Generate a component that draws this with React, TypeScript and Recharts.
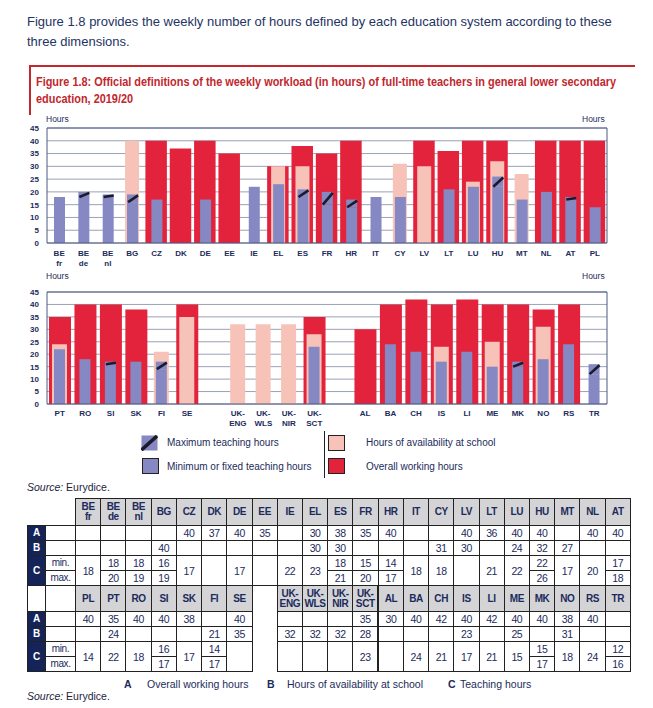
import type { CSSProperties } from "react";
import { Bar, BarChart, CartesianGrid, ReferenceLine, XAxis, YAxis } from "recharts";

// upper chart
const topCountries = ["BE\nfr", "BE\nde", "BE\nnl", "BG", "CZ", "DK", "DE", "EE", "IE", "EL", "ES", "FR", "HR", "IT", "CY", "LV", "LT", "LU", "HU", "MT", "NL", "AT", "PL"];
const topOverall = [null, null, null, null, 40, 37, 40, 35, null, 30, 38, 35, 40, null, null, 40, 36, 40, 40, null, 40, 40, 40];
const topAvailability = [null, null, null, 40, null, null, null, null, null, 30, 30, null, null, null, 31, 30, null, 24, 32, 27, null, null, null];
const topTeachMin = [18, 18, 18, 16, 17, null, 17, null, 22, 23, 18, 15, 14, 18, 18, null, 21, 22, 22, 17, 20, 17, 14];
const topTeachMax = [null, 20, 19, 19, null, null, null, null, null, null, 21, 20, 17, null, null, null, null, null, 26, null, null, 18, null];

// lower chart ("" and " " are the empty slots)
const bottomCountries = ["PT", "RO", "SI", "SK", "FI", "SE", "", "UK-\nENG", "UK-\nWLS", "UK-\nNIR", "UK-\nSCT", " ", "AL", "BA", "CH", "IS", "LI", "ME", "MK", "NO", "RS", "TR"];
const bottomOverall = [35, 40, 40, 38, null, 40, null, null, null, null, 35, null, 30, 40, 42, 40, 42, 40, 40, 38, 40, null];
const bottomAvailability = [24, null, null, null, 21, 35, null, 32, 32, 32, 28, null, null, null, null, 23, null, 25, null, 31, null, null];
const bottomTeachMin = [22, 18, 16, 17, 14, null, null, null, null, null, 23, null, null, 24, 21, 17, 21, 15, 15, 18, 24, 12];
const bottomTeachMax = [null, null, 17, null, 17, null, null, null, null, null, null, null, null, null, null, null, null, null, 17, null, null, 16];

// table columns
const table1Columns = ["BE\nfr", "BE\nde", "BE\nnl", "BG", "CZ", "DK", "DE", "EE", "IE", "EL", "ES", "FR", "HR", "IT", "CY", "LV", "LT", "LU", "HU", "MT", "NL", "AT"];
const table2Columns = ["PL", "PT", "RO", "SI", "SK", "FI", "SE", "", "UK-\nENG", "UK-\nWLS", "UK-\nNIR", "UK-\nSCT", "AL", "BA", "CH", "IS", "LI", "ME", "MK", "NO", "RS", "TR"];

const hourTicks = [0, 5, 10, 15, 20, 25, 30, 35, 40, 45];

const RED = "#e3233b";
const PINK = "#f7c3b8";
const BLUE = "#8588c3";
const NAVY = "#1c2b5b";
const TEXT = "#1e3462";
const DARKNAVY = "#142459";
const FRAME = "#4d5b80";
const GRID = "#9aa2b6";
const TITLE_RED = "#c1272d";
const SANS = "'Liberation Sans', Arial, sans-serif";

type Num = number | null;
type Row = { name: string; A: Num; B: Num; Cmin: Num; Cmax: Num; Chatch: Num };

function buildRows(names: string[], a: Num[], b: Num[], min: Num[], max: Num[]): Row[] {
  return names.map((name, i) => ({
    name,
    A: a[i],
    B: b[i],
    Cmin: min[i],
    Cmax: max[i],
    Chatch: max[i] != null && min[i] != null ? (max[i] as number) - (min[i] as number) : null,
  }));
}

const topRows = buildRows(topCountries, topOverall, topAvailability, topTeachMin, topTeachMax);
const bottomRows = buildRows(bottomCountries, bottomOverall, bottomAvailability, bottomTeachMin, bottomTeachMax);
const lookup = new Map<string, Row>();
[...topRows, ...bottomRows].forEach((r) => lookup.set(r.name, r));

function HatchShape(props: any) {
  const { x, y, width, height } = props;
  if (!height || height <= 0) return null;
  return (
    <g>
      <rect x={x} y={y} width={width} height={height} fill={BLUE} />
      <line x1={x + 1} y1={y + height} x2={x + width} y2={y + 1} stroke="#1b1b2b" strokeWidth={2.6} />
    </g>
  );
}

function CountryTick(props: any) {
  const { x, y, payload, first } = props;
  const lines = String(payload.value).split("\n");
  return (
    <text x={x} y={y} textAnchor="middle" fontSize={8} fontWeight={700} fill={NAVY} fontFamily={SANS}>
      {lines.map((l, i) => (
        <tspan key={i} x={x} dy={i === 0 ? first : 9.5}>
          {l}
        </tspan>
      ))}
    </text>
  );
}

const yTick = { fontSize: 8, fontWeight: 700, fill: NAVY, fontFamily: SANS };

function WorkloadChart({ rows, top, height, first, redSize, pinkSize }: { rows: Row[]; top: number; height: number; first: number; redSize: number; pinkSize: number }) {
  return (
    <div style={{ position: "absolute", left: 0, top, width: 653, height }}>
      <BarChart width={653} height={height} data={rows} margin={{ top: 8, right: 26, bottom: 0, left: 27 }} barGap={0} barCategoryGap={0}>
        <CartesianGrid vertical={false} stroke={GRID} />
        <XAxis
          dataKey="name"
          interval={0}
          tickLine={false}
          tickSize={0}
          axisLine={{ stroke: FRAME }}
          height={30}
          tick={(p: any) => <CountryTick {...p} first={first} />}
        />
        <XAxis dataKey="name" xAxisId="pink" hide />
        <XAxis dataKey="name" xAxisId="blue" hide />
        <YAxis domain={[0, 45]} ticks={hourTicks} interval={0} width={20} tickLine={false} tickSize={0} tickMargin={8} axisLine={{ stroke: FRAME }} tick={yTick} />
        <YAxis yAxisId="right" orientation="right" domain={[0, 45]} ticks={hourTicks} interval={0} width={20} tickLine={false} tickSize={0} tickMargin={10} axisLine={{ stroke: FRAME }} tick={yTick} />
        <ReferenceLine y={45} stroke={FRAME} />
        <Bar dataKey="A" fill={RED} barSize={redSize} isAnimationActive={false} />
        <Bar dataKey="B" xAxisId="pink" fill={PINK} barSize={pinkSize} isAnimationActive={false} />
        <Bar dataKey="Cmin" xAxisId="blue" stackId="c" fill={BLUE} barSize={11} isAnimationActive={false} />
        <Bar dataKey="Chatch" xAxisId="blue" stackId="c" fill={BLUE} barSize={11} shape={HatchShape} isAnimationActive={false} />
      </BarChart>
    </div>
  );
}

const border = "1px solid #222";

function cell(extra?: CSSProperties): CSSProperties {
  return {
    border,
    padding: 0,
    textAlign: "center",
    verticalAlign: "middle",
    fontFamily: SANS,
    fontSize: 10.5,
    letterSpacing: -0.4,
    color: NAVY,
    lineHeight: "10px",
    ...extra,
  };
}

function DataTable({ columns, top, headerHeight, rowHeight, cornerBorder, thickBefore }: { columns: string[]; top: number; headerHeight: number; rowHeight: number; cornerBorder: boolean; thickBefore?: string }) {
  const colW = 555 / columns.length;
  const extraFor = (c: string): CSSProperties => {
    const s: CSSProperties = {};
    if (c === thickBefore) s.borderLeft = "2.5px solid #222";
    if (c === "") {
      s.borderTop = "none";
      s.borderBottom = "none";
    }
    return s;
  };
  const letter = (l: string, span = 1) => (
    <td rowSpan={span} style={cell({ background: DARKNAVY, color: "#fff", fontWeight: 700, fontSize: 10, letterSpacing: 0 })}>{l}</td>
  );
  const val = (v: Num) => (v == null ? "" : String(v));
  return (
    <table style={{ position: "absolute", left: 27, top, width: 603, borderCollapse: "collapse", tableLayout: "fixed" }}>
      <colgroup>
        <col style={{ width: 18 }} />
        <col style={{ width: 30 }} />
        {columns.map((c, i) => (
          <col key={i} style={{ width: colW }} />
        ))}
      </colgroup>
      <tbody>
        <tr style={{ height: headerHeight }}>
          <td style={cell(cornerBorder ? { borderTop: "none" } : { border: "none" })} />
          <td style={cell(cornerBorder ? { borderTop: "none" } : { border: "none" })} />
          {columns.map((c, i) => (
            <td key={i} style={cell({ background: c === "" ? "#fff" : "#d4d4d6", fontWeight: 700, fontSize: 10, ...extraFor(c) })}>
              {c.split("\n").map((l, j) => (
                <div key={j}>{l}</div>
              ))}
            </td>
          ))}
        </tr>
        <tr style={{ height: rowHeight }}>
          {letter("A")}
          <td style={cell()} />
          {columns.map((c, i) => (
            <td key={i} style={cell(extraFor(c))}>{val(lookup.get(c)?.A ?? null)}</td>
          ))}
        </tr>
        <tr style={{ height: rowHeight }}>
          {letter("B")}
          <td style={cell()} />
          {columns.map((c, i) => (
            <td key={i} style={cell(extraFor(c))}>{val(lookup.get(c)?.B ?? null)}</td>
          ))}
        </tr>
        <tr style={{ height: rowHeight }}>
          {letter("C", 2)}
          <td style={cell({ fontSize: 10 })}>min.</td>
          {columns.map((c, i) => {
            const r = lookup.get(c);
            if (r && r.Cmax != null) return <td key={i} style={cell(extraFor(c))}>{val(r.Cmin)}</td>;
            return (
              <td key={i} rowSpan={2} style={cell(extraFor(c))}>
                {val(r?.Cmin ?? null)}
              </td>
            );
          })}
        </tr>
        <tr style={{ height: rowHeight }}>
          <td style={cell({ fontSize: 10 })}>max.</td>
          {columns.map((c, i) => {
            const r = lookup.get(c);
            if (r && r.Cmax != null) return <td key={i} style={cell(extraFor(c))}>{val(r.Cmax)}</td>;
            return null;
          })}
        </tr>
      </tbody>
    </table>
  );
}

function LegendBox({ left, top, color, hatch }: { left: number; top: number; color: string; hatch?: boolean }) {
  return (
    <svg style={{ position: "absolute", left, top }} width={17} height={16}>
      <rect x={0.5} y={0.5} width={16} height={15} fill={color} stroke={hatch ? "none" : "#222"} />
      {hatch && <line x1={0.5} y1={15} x2={16} y2={1} stroke="#1b1b2b" strokeWidth={3.5} />}
    </svg>
  );
}

const abs = (left: number, top: number, extra?: CSSProperties): CSSProperties => ({
  position: "absolute",
  left,
  top,
  whiteSpace: "nowrap",
  fontFamily: SANS,
  color: NAVY,
  ...extra,
});

export default function App() {
  return (
    <div style={{ position: "absolute", left: 0, top: 0, width: 653, height: 708, background: "#fff", overflow: "hidden" }}>
      <div style={abs(27, 12, { fontSize: 13, lineHeight: "20px", color: TEXT })}>
        Figure 1.8 provides the weekly number of hours defined by each education system according to these
        <br />
        three dimensions.
      </div>

      <div style={{ position: "absolute", left: 29, top: 65, width: 604, height: 48, borderTop: `2px solid ${TITLE_RED}`, borderLeft: `2px solid ${TITLE_RED}` }} />
      <div style={abs(36, 73, { fontWeight: 700, fontSize: 13, lineHeight: "17px", color: TITLE_RED, transform: "scaleX(0.84)", transformOrigin: "0 0" })}>
        Figure 1.8: Official definitions of the weekly workload (in hours) of full-time teachers in general lower secondary
        <br />
        education, 2019/20
      </div>

      <div style={abs(46, 114, { fontSize: 8.5 })}>Hours</div>
      <div style={abs(582, 114, { fontSize: 8.5 })}>Hours</div>
      <WorkloadChart rows={topRows} top={120} height={153} first={11} redSize={21.5} pinkSize={14} />

      <div style={abs(46, 271, { fontSize: 8.5 })}>Hours</div>
      <div style={abs(582, 271, { fontSize: 8.5 })}>Hours</div>
      <WorkloadChart rows={bottomRows} top={284} height={150} first={10} redSize={22} pinkSize={15} />

      <LegendBox left={141} top={435} color={BLUE} hatch />
      <div style={abs(167, 437, { fontSize: 10 })}>Maximum teaching hours</div>
      <LegendBox left={142} top={458} color={BLUE} />
      <div style={abs(167, 461, { fontSize: 10 })}>Minimum or fixed teaching hours</div>
      <div style={{ position: "absolute", left: 324, top: 431, width: 1, height: 47, background: "#222" }} />
      <LegendBox left={328} top={435} color={PINK} />
      <div style={abs(366, 437, { fontSize: 10 })}>Hours of availability at school</div>
      <LegendBox left={328} top={458} color={RED} />
      <div style={abs(366, 461, { fontSize: 10 })}>Overall working hours</div>

      <div style={abs(27, 481, { fontSize: 10.5, color: "#1d2440" })}>
        <i>Source:</i> Eurydice.
      </div>

      <DataTable columns={table1Columns} top={498} headerHeight={27} rowHeight={15} cornerBorder={false} />
      <DataTable columns={table2Columns} top={585} headerHeight={26} rowHeight={15} cornerBorder thickBefore="AL" />

      <div style={abs(124, 678, { fontSize: 10.5, fontWeight: 700 })}>A</div>
      <div style={abs(147, 678, { fontSize: 10.5 })}>Overall working hours</div>
      <div style={abs(267, 678, { fontSize: 10.5, fontWeight: 700 })}>B</div>
      <div style={abs(287, 678, { fontSize: 10.5 })}>Hours of availability at school</div>
      <div style={abs(448, 678, { fontSize: 10.5, fontWeight: 700 })}>C</div>
      <div style={abs(460, 678, { fontSize: 10.5 })}>Teaching hours</div>
      <div style={abs(27, 690, { fontSize: 10.5, color: "#1d2440" })}>
        <i>Source:</i> Eurydice.
      </div>
    </div>
  );
}
